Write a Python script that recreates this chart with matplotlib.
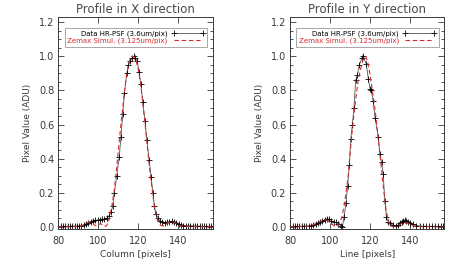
import matplotlib.pyplot as plt
from matplotlib.ticker import MultipleLocator

# ---- data ------------------------------------------------------------
# X profile, measured (3.6um/pix, resampled)
x_data_x = [80.0, 81.2, 82.3, 83.5, 84.6, 85.8, 86.9, 88.1, 89.2, 90.4,
            91.5, 92.7, 93.8, 95.0, 96.1, 97.3, 98.4, 99.6, 100.7, 101.9,
            103.0, 104.2, 105.3, 106.4, 107.2, 108.0, 109.2, 110.4, 111.3,
            112.2, 113.0, 114.2, 115.0, 116.0, 117.0, 117.6, 118.2, 119.4,
            120.3, 121.2, 122.2, 123.3, 124.2, 125.4, 126.4, 127.2, 128.0,
            128.8, 129.6, 130.8, 132.0, 133.2, 134.4, 135.5, 136.7, 137.9,
            139.0, 140.2, 141.3, 142.5, 143.6, 144.8, 146.0, 147.1, 148.3,
            149.4, 150.6, 151.7, 152.9, 154.0, 155.2, 156.3, 157.5]
x_data_v = [0.003, 0.003, 0.003, 0.003, 0.003, 0.004, 0.004, 0.005, 0.005,
            0.006, 0.008, 0.010, 0.014, 0.020, 0.028, 0.034, 0.038, 0.040,
            0.042, 0.044, 0.046, 0.052, 0.065, 0.087, 0.125, 0.200, 0.300,
            0.410, 0.530, 0.660, 0.785, 0.900, 0.950, 0.975, 0.990, 1.000,
            0.990, 0.975, 0.910, 0.840, 0.730, 0.620, 0.510, 0.390, 0.290,
            0.200, 0.120, 0.077, 0.052, 0.035, 0.027, 0.025, 0.028, 0.031,
            0.032, 0.030, 0.022, 0.014, 0.010, 0.008, 0.007, 0.006, 0.006,
            0.005, 0.005, 0.004, 0.004, 0.004, 0.003, 0.003, 0.003, 0.003,
            0.003]

# X profile, Zemax simulation (3.125um/pix)
x_sim_x = list(range(80, 158))
x_sim_v = [0.000, 0.000, 0.000, 0.000, 0.000, 0.000, 0.001, 0.001, 0.001,
           0.002, 0.002, 0.004, 0.008, 0.013, 0.020, 0.028, 0.030, 0.025,
           0.012, 0.005, 0.010, 0.020, 0.012, 0.003, 0.005, 0.030, 0.080,
           0.140, 0.220, 0.330, 0.450, 0.570, 0.680, 0.790, 0.880, 0.950,
           0.990, 1.000, 0.995, 0.970, 0.920, 0.850, 0.750, 0.640, 0.530,
           0.410, 0.300, 0.210, 0.120, 0.060, 0.025, 0.010, 0.005, 0.008,
           0.018, 0.026, 0.030, 0.030, 0.026, 0.018, 0.010, 0.006, 0.004,
           0.003, 0.003, 0.002, 0.002, 0.002, 0.002, 0.001, 0.001, 0.001,
           0.001, 0.001, 0.001, 0.000, 0.000, 0.000]

# Y profile, measured
y_data_x = [80.0, 81.2, 82.3, 83.5, 84.6, 85.8, 86.9, 88.1, 89.2, 90.4,
            91.5, 92.7, 93.8, 95.0, 96.1, 97.3, 98.4, 99.6, 100.7, 101.9,
            103.0, 104.2, 105.3, 106.2, 107.0, 108.0, 108.8, 109.7, 110.35,
            111.2, 112.0, 112.85, 113.7, 114.7, 116.0, 116.7, 118.2, 119.2,
            120.1, 120.7, 121.6, 122.6, 124.2, 125.0, 125.85, 126.7, 127.5,
            128.35, 129.2, 130.0, 131.7, 133.3, 134.2, 135.0, 135.9, 136.7,
            137.5, 138.3, 139.2, 140.0, 141.7, 143.3, 145.0, 146.5, 148.0,
            149.5, 151.0, 152.5, 154.0, 155.5, 157.0]
y_data_v = [0.003, 0.003, 0.003, 0.003, 0.004, 0.004, 0.004, 0.005, 0.006,
            0.008, 0.012, 0.016, 0.022, 0.028, 0.035, 0.042, 0.048, 0.045,
            0.036, 0.030, 0.026, 0.018, 0.008, 0.000, 0.058, 0.140, 0.240,
            0.360, 0.515, 0.600, 0.700, 0.860, 0.890, 0.950, 0.990, 1.000,
            0.955, 0.870, 0.810, 0.805, 0.740, 0.640, 0.530, 0.430, 0.380,
            0.310, 0.154, 0.058, 0.030, 0.020, 0.010, 0.005, 0.012, 0.023,
            0.030, 0.037, 0.040, 0.036, 0.030, 0.025, 0.014, 0.008, 0.005,
            0.004, 0.004, 0.003, 0.003, 0.003, 0.003, 0.003, 0.003]

# Y profile, Zemax simulation
y_sim_x = list(range(80, 158))
y_sim_v = [0.000, 0.000, 0.000, 0.000, 0.001, 0.001, 0.001, 0.002, 0.002,
           0.003, 0.005, 0.010, 0.015, 0.020, 0.026, 0.032, 0.036, 0.040,
           0.040, 0.035, 0.025, 0.015, 0.006, 0.001, 0.005, 0.030, 0.060,
           0.120, 0.200, 0.290, 0.420, 0.550, 0.660, 0.760, 0.850, 0.910,
           0.960, 0.990, 1.000, 0.960, 0.900, 0.820, 0.740, 0.650, 0.540,
           0.430, 0.320, 0.210, 0.110, 0.045, 0.012, 0.002, 0.001, 0.003,
           0.008, 0.014, 0.020, 0.024, 0.025, 0.022, 0.017, 0.011, 0.006,
           0.003, 0.002, 0.002, 0.001, 0.001, 0.001, 0.001, 0.001, 0.001,
           0.000, 0.000, 0.000, 0.000, 0.000, 0.000]

titles = ['Profile in X direction', 'Profile in Y direction']
xlabels = ['Column [pixels]', 'Line [pixels]']
data_label = 'Data HR-PSF (3.6um/pix)'
sim_label = 'Zemax Simul. (3.125um/pix)'

INK = '#3a3a3a'
RED = '#d42a2e'

plt.rcParams['font.family'] = 'DejaVu Sans'
plt.rcParams['axes.edgecolor'] = INK
plt.rcParams['xtick.color'] = INK
plt.rcParams['ytick.color'] = INK

fig = plt.figure(figsize=(4.63, 2.67), dpi=100)
boxes = [[0.126, 0.142, 0.335, 0.795], [0.627, 0.142, 0.333, 0.795]]
profiles = [(x_data_x, x_data_v, x_sim_x, x_sim_v),
            (y_data_x, y_data_v, y_sim_x, y_sim_v)]

for box, (dx, dv, sx, sv), title, xlab in zip(boxes, profiles, titles, xlabels):
    ax = fig.add_axes(box)
    ax.plot(dx, dv, color='#555555', lw=0.6, marker='+', ms=4, mew=0.6,
            mec='black', label=data_label)
    ax.plot(sx, sv, color=RED, lw=0.8, ls=(0, (4, 2.5)), label=sim_label)

    ax.set_xlim(80, 157.5)
    ax.set_ylim(-0.013, 1.232)
    ax.xaxis.set_major_locator(MultipleLocator(20))
    ax.yaxis.set_major_locator(MultipleLocator(0.2))
    ax.yaxis.set_minor_locator(MultipleLocator(0.05))
    ax.yaxis.set_major_formatter('{x:.1f}')
    ax.tick_params(which='both', direction='in', top=True, right=True,
                   labelsize=7, width=0.6, pad=3)
    ax.tick_params(axis='x', pad=5)
    ax.tick_params(which='major', length=4)
    ax.tick_params(which='minor', length=2)
    for s in ax.spines.values():
        s.set_linewidth(0.7)

    ax.set_title(title, fontsize=8.5, color='#4a4a4a', pad=3)
    ax.set_xlabel(xlab, fontsize=6.5, color=INK, labelpad=2.5)
    ax.set_ylabel('Pixel Value (ADU)', fontsize=6.5, color=INK, labelpad=5)

    leg = ax.legend(loc='upper center', bbox_to_anchor=(0.5, 0.965),
                    fontsize=5, markerfirst=False, numpoints=2,
                    handlelength=4.8, handletextpad=0.6, borderpad=0.35,
                    labelspacing=0.15, fancybox=False, framealpha=1,
                    edgecolor='#9a9a9a', labelcolor=['black', RED])
    leg.get_frame().set_linewidth(0.6)

fig.savefig('out.png', dpi=100)
